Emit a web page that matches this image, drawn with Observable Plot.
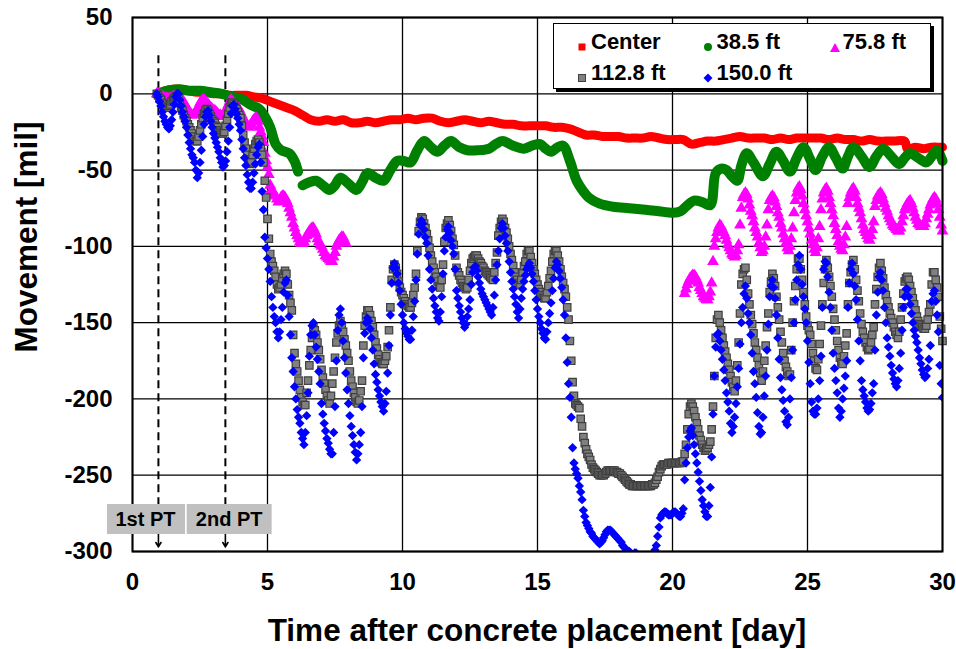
<!DOCTYPE html>
<html><head><meta charset="utf-8">
<script src="https://cdn.jsdelivr.net/npm/d3@7"></script>
<script src="https://cdn.jsdelivr.net/npm/@observablehq/plot@0.6"></script>
<style>
body{margin:0;background:#fff;}
#wrap{position:relative;width:956px;height:649px;font-family:"Liberation Sans",Arial,sans-serif;font-weight:bold;color:#000;overflow:hidden;}
#wrap svg{position:absolute;left:0;top:0;}
.ov{position:absolute;white-space:nowrap;}
.pt{background:#c0c0c0;font-size:20px;height:30px;line-height:30px;padding:0 9px;transform:translate(-50%,-50%);}
#legend{position:absolute;left:553px;top:23px;width:376px;height:64px;border:1.5px solid #000;background:#fff;box-shadow:3px 3px 0 #000;}
.li{position:absolute;font-size:22px;line-height:22px;transform:translateY(-50%);}
.lm{position:absolute;transform:translate(-50%,-50%);}
</style></head>
<body><div id="wrap"></div>
<script>
const step = 0.05;
const xTicks = [0,5,10,15,20,25,30];
const yTicks = [50,0,-50,-100,-150,-200,-250,-300];
const seriesNames = ["Center","38.5 ft","75.8 ft","112.8 ft","150.0 ft"];
const seriesColors = ["#ff0000","#008000","#ff00ff","#808080","#0000ff"];
const ptDays = [0.96, 3.44];
const ptLabels = ["1st PT","2nd PT"];
const ptLabelDays = [0.5, 3.6];
const ptLabelLevel = -279;
const ptArrowTop = 25, ptArrowBottom = -297;

// Center (day, mil)
const redPoints = [[0.96,0],[1.2,2],[1.5,3],[1.8,3],[2.1,2],[2.4,1],[2.7,1],[3.0,0],[3.3,0],[3.6,-1],[3.9,-1],[4.2,-1],[4.5,-2],[4.8,-3],[5.1,-5],[5.4,-7],[5.7,-9],[6.0,-11],[6.3,-14],[6.6,-17],[6.9,-18],[7.2,-17],[7.5,-18],[7.8,-17],[8.1,-19],[8.4,-19],[8.7,-18],[9.0,-19],[9.3,-18],[9.6,-17],[9.9,-17],[10.2,-16],[10.5,-17],[10.8,-16],[11.1,-16],[11.4,-18],[11.7,-19],[12.0,-18],[12.3,-17],[12.6,-18],[12.9,-19],[13.2,-18],[13.5,-19],[13.8,-20],[14.1,-20],[14.4,-21],[14.7,-21],[15.0,-21],[15.3,-21],[15.6,-22],[15.9,-22],[16.2,-23],[16.5,-25],[16.8,-27],[17.1,-27],[17.4,-28],[17.7,-28],[18.0,-28],[18.3,-29],[18.6,-29],[18.9,-29],[19.2,-28],[19.5,-29],[19.8,-30],[20.1,-30],[20.4,-30],[20.7,-33],[21.0,-32],[21.3,-31],[21.6,-31],[21.9,-30],[22.2,-29],[22.5,-28],[22.8,-29],[23.1,-29],[23.4,-29],[23.7,-30],[24.0,-29],[24.3,-30],[24.6,-29],[24.9,-29],[25.2,-29],[25.5,-29],[25.8,-30],[26.1,-29],[26.4,-30],[26.7,-30],[27.0,-31],[27.3,-30],[27.6,-31],[27.9,-31],[28.2,-31],[28.6,-31],[28.7,-36],[29.0,-35],[29.3,-36],[29.6,-35],[29.9,-35],[30.0,-35]];

// 38.5 ft (day, mil); null = gap in record
const greenPoints = [[0.96,0],[1.3,2],[1.7,3],[2.1,2],[2.5,2],[2.9,1],[3.3,0],[3.7,-2],[4.0,-3],[4.35,-7],[4.7,-10],[4.9,-15],[5.1,-22],[5.3,-33],[5.5,-37],[5.8,-39],[6.0,-44],[6.13,-51],[6.2,null],[6.3,-60],[6.55,-58],[6.8,-57],[7.05,-60],[7.3,-63],[7.5,-60],[7.7,-55],[8.0,-59],[8.3,-63],[8.5,-58],[8.7,-52],[9.0,-55],[9.3,-57],[9.55,-50],[9.8,-44],[10.05,-44],[10.3,-45],[10.55,-37],[10.8,-31],[11.05,-35],[11.3,-38],[11.55,-34],[11.8,-31],[12.1,-35],[12.4,-37],[12.8,-37],[13.2,-36],[13.45,-33],[13.7,-31],[14.1,-34],[14.5,-36],[14.8,-34],[15.1,-33],[15.3,-36],[15.5,-38],[15.75,-35],[15.95,-34],[16.2,-44],[16.45,-57],[16.7,-64],[16.9,-68],[17.3,-72],[17.8,-74],[18.4,-75],[19.0,-76],[19.5,-77],[20.0,-78],[20.3,-77],[20.5,-74],[20.8,-70],[21.1,-71],[21.4,-73],[21.6,-52],[21.8,-49],[22.0,-50],[22.2,-54],[22.4,-57],[22.55,-47],[22.75,-39],[23.0,-45],[23.35,-54],[23.6,-46],[23.85,-38],[24.1,-44],[24.35,-51],[24.6,-42],[24.85,-35],[25.1,-43],[25.3,-50],[25.55,-41],[25.8,-35],[26.05,-42],[26.3,-49],[26.5,-41],[26.7,-35],[27.0,-41],[27.3,-48],[27.55,-41],[27.8,-36],[28.1,-41],[28.4,-46],[28.6,-42],[28.8,-39],[29.1,-42],[29.4,-45],[29.6,-41],[29.8,-37],[30.0,-44]];

// 75.8 ft, read every 0.05 day
const magentaStartA = 0.9;
const magentaValuesA = [0,0,
-1,-1,-2,-2,-3,-3,-3,-3,-3,-3,-2,-2,-2,-2,-2,-2,-3,-4,-6,-7,
-9,-10,-12,-13,-14,-14,-13,-12,-10,-8,-6,-5,-4,-4,-5,-6,-7,-8,-9,-10,
-11,-11,-12,-13,-14,-14,-15,-15,-14,-12,-9,-7,-5,-4,-5,-6,-7,-8,-9,-10,
-12,-14,-16,-18,-20,-21,-22,-21,-20,-18,-17,-16,-16,-18,-22,-25,-28,-32,-39,-44,
-48,-53,-60,-63,-64,-66,-67,-69,-71,-70,-68,-67,-67,-68,-70,-72,-75,-78,-81,-85,
-88,-91,-93,-95,-97,-98,-98,-97,-95,-93,-92,-90,-89,-88,-88,-90,-92,-95,-97,-99,
-100,-102,-104,-106,-107,-108,-109,-110,-110,-107,-104,-100,-98,-96,-95,-94,-94,-96,-98];
const magentaStartB = 20.45;
const magentaValuesB = [-131,-128,-125,-123,-121,-120,-119,-119,-120,-122,-124,
-127,-129,-131,-133,-134,-135,-135,-133,-130,-124,-110,-100,-95,-91,-88,-86,-87,-89,-91,-93,
-96,-99,-101,-103,-105,-106,-107,-106,-103,-99,-86,-75,-68,-66,-65,-66,-69,-73,-77,-80,
-84,-88,-91,-94,-98,-101,-104,-103,-100,-94,-86,-76,-70,-68,-67,-68,-71,-74,-78,-81,
-85,-88,-92,-95,-98,-101,-103,-100,-95,-88,-78,-70,-65,-62,-61,-63,-67,-72,-76,-80,
-84,-88,-92,-96,-99,-102,-104,-101,-95,-87,-76,-69,-65,-63,-62,-64,-68,-72,-76,-80,
-85,-89,-93,-97,-100,-102,-103,-99,-94,-87,-72,-68,-65,-63,-62,-64,-68,-72,-75,-78,
-82,-86,-89,-91,-93,-95,-96,-93,-89,-84,-74,-70,-67,-66,-65,-66,-69,-72,-75,-77,
-80,-82,-84,-86,-87,-88,-89,-90,-90,-88,-84,-80,-76,-74,-72,-71,-70,-72,-75,-78,
-81,-83,-85,-86,-87,-87,-87,-85,-82,-79,-76,-73,-71,-69,-68,-69,-72,-76,-81,-86,
-90];

// 112.8 ft, read every 0.05 day
const grayStart = 0.9;
const grayValues = [0,-1,
-3,-4,-6,-7,-8,-9,-9,-8,-7,-5,-4,-3,-2,-2,-3,-6,-9,-11,-14,-16,
-18,-20,-22,-24,-26,-28,-30,-31,-31,-28,-24,-20,-16,-13,-11,-10,-11,-13,-15,-17,
-18,-19,-21,-22,-24,-25,-26,-26,-25,-21,-17,-13,-9,-6,-6,-7,-9,-10,-12,-14,
-16,-21,-27,-32,-36,-40,-43,-46,-45,-40,-36,-33,-31,-30,-32,-36,-40,-45,-57,-68,
-82,-95,-105,-110,-113,-116,-120,-125,-128,-127,-125,-121,-118,-116,-118,-125,-132,-137,-142,-158,
-170,-177,-182,-188,-194,-199,-202,-204,-204,-196,-188,-178,-168,-160,-153,-155,-158,-163,-168,-174,
-181,-186,-190,-194,-198,-201,-203,-198,-190,-182,-173,-163,-157,-152,-149,-152,-156,-161,-165,-170,
-175,-182,-188,-192,-196,-199,-202,-203,-201,-195,-188,-165,-152,-146,-142,-142,-145,-149,-153,-158,
-163,-167,-171,-174,-176,-177,-177,-175,-172,-166,-155,-140,-122,-115,-112,-114,-118,-123,-127,-130,
-132,-134,-136,-138,-139,-140,-140,-137,-132,-127,-118,-103,-90,-84,-81,-82,-85,-88,-92,-96,
-101,-106,-110,-114,-117,-120,-123,-126,-127,-122,-112,-97,-88,-85,-83,-86,-90,-95,-99,-106,
-114,-117,-119,-122,-124,-126,-127,-128,-127,-122,-116,-111,-108,-107,-106,-106,-108,-110,-111,-113,
-114,-116,-117,-118,-119,-120,-121,-122,-117,-111,-104,-93,-88,-84,-82,-84,-88,-91,-95,-100,
-105,-109,-113,-117,-120,-122,-124,-125,-122,-117,-113,-110,-105,-103,-103,-107,-111,-115,-118,-122,
-125,-128,-130,-132,-133,-134,-134,-130,-126,-121,-116,-110,-105,-103,-103,-106,-110,-115,-120,-124,
-128,-133,-140,-148,-162,-175,-189,-198,-203,-204,-205,-206,-213,-218,-225,-229,-233,-236,-238,-240,
-243,-245,-246,-247,-248,-249,-250,-250,-250,-250,-249,-248,-247,-247,-247,-247,-247,-247,-248,-248,
-249,-249,-250,-251,-252,-253,-254,-255,-256,-256,-257,-257,-257,-257,-257,-257,-257,-257,-257,-257,
-257,-257,-257,-257,-257,-256,-256,-255,-253,-251,-248,-246,-244,-243,-243,-243,-243,-242,-242,-242,
-242,-242,-242,-242,-242,-242,-242,-241,-241,-236,-230,-220,-210,-205,-203,-205,-208,-212,-216,-220,
-224,-227,-230,-232,-234,-233,-232,-230,-228,-220,-205,-185,-160,-148,-145,-150,-155,-160,-165,-169,
-173,-177,-181,-185,-189,-192,-195,-188,-178,-163,-144,-125,-118,-115,-114,-122,-131,-138,-145,-151,
-157,-163,-168,-173,-178,-183,-188,-182,-175,-165,-153,-144,-130,-123,-118,-121,-126,-133,-140,-148,
-156,-163,-170,-175,-179,-182,-185,-184,-168,-150,-136,-126,-115,-108,-108,-115,-122,-130,-138,-146,
-152,-155,-158,-164,-170,-175,-180,-181,-174,-164,-152,-138,-124,-115,-109,-114,-120,-126,-133,-141,
-148,-155,-162,-168,-173,-176,-177,-172,-165,-157,-138,-124,-117,-112,-109,-115,-122,-129,-136,-144,
-151,-156,-160,-163,-166,-168,-167,-163,-158,-153,-138,-128,-120,-114,-111,-116,-121,-127,-132,-136,
-140,-144,-147,-150,-153,-156,-158,-160,-156,-148,-140,-131,-123,-121,-120,-122,-126,-130,-134,-138,
-142,-146,-149,-151,-152,-153,-154,-154,-152,-148,-143,-138,-125,-117,-117,-122,-127,-133,-146,-154,
-162];

// 150.0 ft, read every 0.05 day
const blueStart = 0.9;
const blueValues = [0,-2,
-5,-8,-12,-15,-18,-20,-22,-23,-21,-17,-12,-7,-2,0,0,-4,-8,-12,-15,-18,
-22,-27,-32,-36,-40,-42,-45,-50,-55,-52,-45,-37,-28,-20,-15,-12,-11,-14,-18,-22,
-26,-29,-32,-35,-38,-42,-45,-48,-47,-44,-38,-31,-22,-13,-8,-7,-10,-13,-16,-20,
-24,-30,-36,-42,-47,-53,-58,-62,-62,-58,-52,-46,-40,-35,-33,-45,-64,-76,-94,-101,
-108,-115,-123,-133,-140,-146,-150,-156,-160,-156,-148,-140,-130,-124,-122,-132,-146,-158,-173,-182,
-192,-200,-207,-212,-216,-222,-226,-230,-222,-211,-196,-172,-158,-152,-150,-158,-166,-174,-182,-190,
-203,-210,-216,-221,-226,-229,-233,-236,-236,-222,-205,-175,-155,-145,-141,-150,-162,-173,-183,-194,
-203,-211,-218,-224,-230,-235,-240,-236,-230,-222,-205,-173,-157,-150,-147,-149,-154,-160,-168,-177,
-184,-189,-194,-198,-202,-205,-208,-203,-195,-183,-165,-145,-124,-114,-111,-114,-118,-124,-129,-138,
-145,-150,-154,-157,-159,-161,-161,-155,-146,-136,-122,-105,-92,-86,-83,-85,-89,-94,-98,-106,
-115,-122,-128,-134,-139,-143,-147,-149,-143,-133,-118,-103,-94,-89,-87,-91,-96,-100,-105,-115,
-129,-134,-139,-143,-147,-150,-153,-151,-146,-141,-135,-125,-117,-114,-113,-116,-120,-124,-128,-131,
-133,-135,-137,-139,-141,-143,-145,-140,-132,-122,-112,-103,-95,-88,-85,-88,-93,-98,-103,-110,
-117,-123,-128,-133,-138,-143,-147,-141,-134,-128,-123,-119,-115,-113,-111,-114,-118,-123,-129,-135,
-141,-146,-150,-154,-157,-160,-161,-156,-150,-144,-137,-129,-121,-114,-110,-112,-116,-121,-127,-135,
-145,-160,-176,-190,-199,-212,-232,-242,-246,-249,-252,-257,-261,-266,-273,-277,-281,-283,-285,-287,
-288,-290,-291,-292,-293,-294,-295,-294,-293,-291,-289,-287,-286,-286,-286,-287,-288,-289,-290,-291,
-292,-293,-294,-296,-297,-298,-299,-300,-300,-301,-302,-302,-301,-301,-303,-305,-306,-307,-308,-308,
-308,-307,-306,-305,-303,-302,-301,-299,-296,-290,-284,-278,-276,-275,-274,-274,-275,-276,-276,-276,
-275,-274,-274,-275,-276,-277,-277,-275,-272,-253,-242,-232,-225,-221,-219,-224,-230,-236,-242,-248,
-254,-260,-266,-270,-274,-277,-277,-270,-258,-238,-210,-185,-166,-158,-157,-162,-168,-174,-181,-188,
-196,-202,-208,-216,-222,-218,-212,-203,-192,-180,-164,-150,-140,-131,-126,-134,-144,-150,-158,-170,
-182,-190,-199,-209,-218,-223,-222,-212,-198,-185,-168,-151,-133,-126,-122,-127,-134,-145,-160,-174,
-186,-194,-201,-208,-215,-217,-212,-200,-186,-168,-150,-135,-122,-112,-106,-115,-125,-133,-141,-150,
-162,-176,-190,-202,-208,-210,-210,-206,-200,-188,-172,-140,-115,-110,-111,-120,-130,-140,-155,-170,
-180,-188,-196,-206,-212,-208,-200,-193,-185,-175,-140,-124,-115,-111,-118,-126,-135,-148,-162,-175,
-188,-194,-198,-202,-206,-208,-207,-203,-196,-190,-168,-145,-130,-120,-117,-122,-129,-140,-150,-160,
-166,-172,-178,-183,-187,-190,-192,-188,-180,-170,-155,-140,-133,-128,-128,-133,-138,-144,-150,-155,
-159,-163,-168,-173,-177,-181,-184,-186,-185,-180,-174,-165,-136,-131,-129,-136,-145,-156,-178,-190,
-199];

const sampled = (start, vals) => vals.map((v, i) => ({t: +(start + i * step).toFixed(2), v}));
const pairs = (arr) => arr.map(([t, v]) => ({t, v}));

const red = pairs(redPoints);
const green = pairs(greenPoints);
const magenta = sampled(magentaStartA, magentaValuesA).concat(sampled(magentaStartB, magentaValuesB));
const gray = sampled(grayStart, grayValues);
const blue = sampled(blueStart, blueValues);
const pts = ptDays.map((t, i) => ({t, label: ptLabels[i], lt: ptLabelDays[i]}));

const fontFamily = "'Liberation Sans', Arial, sans-serif";
const chart = Plot.plot({
  width: 956, height: 649,
  marginLeft: 132, marginRight: 14, marginTop: 17, marginBottom: 98,
  style: {fontFamily, fontWeight: "bold", fontSize: "24px", color: "#000", background: "transparent", overflow: "visible"},
  x: {domain: [0, 30], label: null},
  y: {domain: [-300, 50], label: null},
  marks: [
    Plot.gridX(xTicks, {stroke: "#000", strokeOpacity: 1, strokeWidth: 1.3}),
    Plot.gridY(yTicks, {stroke: "#000", strokeOpacity: 1, strokeWidth: 1.3}),
    Plot.axisX(xTicks, {tickSize: 0, tickPadding: 21, fontSize: 24, fontWeight: "bold", tickFormat: d => String(d)}),
    Plot.axisY(yTicks, {tickSize: 0, tickPadding: 20, fontSize: 24, fontWeight: "bold", tickFormat: d => String(d)}),
    Plot.ruleX(pts, {x: "t", y1: ptArrowTop, y2: ptArrowBottom + 8, stroke: "#000", strokeWidth: 2, strokeDasharray: "8,5"}),
    Plot.arrow(pts, {x1: "t", x2: "t", y1: ptArrowBottom + 10, y2: ptArrowBottom, stroke: "#000", strokeWidth: 1.6, headLength: 9, bend: 0}),
    Plot.line(red, {x: "t", y: "v", stroke: seriesColors[0], strokeWidth: 9, curve: "catmull-rom"}),
    Plot.line(green, {x: "t", y: "v", stroke: seriesColors[1], strokeWidth: 10, curve: "catmull-rom"}),
    Plot.dot(magenta, {x: "t", y: "v", symbol: "triangle", r: 4.4, fill: seriesColors[2], stroke: "none"}),
    Plot.dot(gray, {x: "t", y: "v", symbol: "square", r: 4.2, fill: seriesColors[3], stroke: "#404040", strokeWidth: 1.2}),
    Plot.dot(blue, {x: "t", y: "v", symbol: "diamond2", r: 4.2, fill: seriesColors[4], stroke: "none", clip: true}),
    Plot.frame({stroke: "#000", strokeWidth: 2})
  ]
});

const wrap = document.getElementById("wrap");
wrap.appendChild(chart);
const xs = chart.scale("x"), ys = chart.scale("y");

// PT labels
pts.forEach(p => {
  const d = document.createElement("div");
  d.className = "ov pt";
  d.textContent = p.label;
  d.style.left = xs.apply(p.lt) + "px";
  d.style.top = ys.apply(ptLabelLevel) + "px";
  wrap.appendChild(d);
});

// axis titles
const xt = document.createElement("div");
xt.className = "ov";
xt.textContent = "Time after concrete placement [day]";
xt.style.cssText += "font-size:31.5px;left:537px;top:630px;transform:translate(-50%,-50%);";
wrap.appendChild(xt);
const yt = document.createElement("div");
yt.className = "ov";
yt.textContent = "Movement [mil]";
yt.style.cssText += "font-size:31.5px;left:26px;top:237px;transform:translate(-50%,-50%) rotate(-90deg);";
wrap.appendChild(yt);

// legend
const lg = document.createElement("div");
lg.id = "legend";
wrap.appendChild(lg);
const markerSvg = [
  '<svg width="10" height="10"><rect x="1.5" y="1.5" width="7" height="7" fill="#ff0000"/></svg>',
  '<svg width="10" height="10"><circle cx="5" cy="5" r="4" fill="#008000"/></svg>',
  '<svg width="12" height="11"><polygon points="6,1 11,10 1,10" fill="#ff00ff"/></svg>',
  '<svg width="10" height="10"><rect x="1.5" y="1.5" width="7" height="7" fill="#808080" stroke="#404040" stroke-width="1"/></svg>',
  '<svg width="10" height="10"><polygon points="5,0.5 9.5,5 5,9.5 0.5,5" fill="#0000ff"/></svg>'
];
const colX = [23, 148.5, 274.5], rowY = [17.5, 48.5];
seriesNames.forEach((name, i) => {
  const c = i % 3, r = Math.floor(i / 3);
  const m = document.createElement("div");
  m.className = "lm";
  m.innerHTML = markerSvg[i];
  m.style.left = colX[c] + "px"; m.style.top = rowY[r] + "px";
  m.style.lineHeight = "0";
  lg.appendChild(m);
  const t = document.createElement("div");
  t.className = "li";
  t.textContent = name;
  t.style.left = (colX[c] + 14) + "px"; t.style.top = rowY[r] + "px";
  lg.appendChild(t);
});
</script></body></html>
